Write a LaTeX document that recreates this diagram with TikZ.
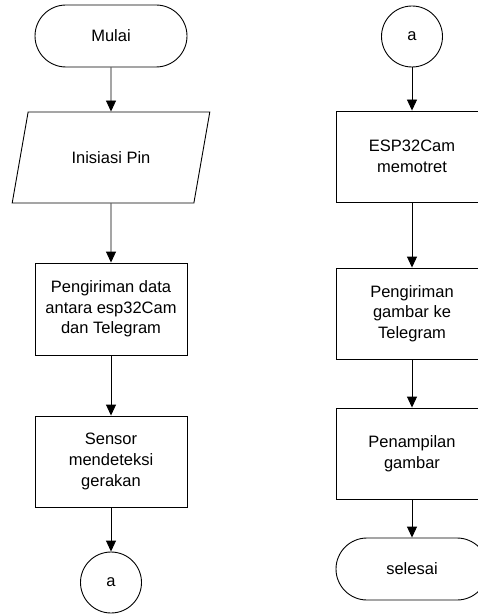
\documentclass[tikz,border=0pt]{standalone}
\usepackage{fontspec}
\setmainfont{Liberation Sans}
\usetikzlibrary{shapes.geometric,arrows.meta}
\begin{document}
\begin{tikzpicture}[x=1pt,y=-1pt,
  every node/.style={font=\fontsize{16.5}{20.7}\selectfont, align=center, draw=black, line width=0.9pt, inner sep=2pt},
  procbox/.style={rectangle, minimum width=152pt, minimum height=91pt},
  termbox/.style={rectangle, rounded corners=31pt, minimum width=152pt, minimum height=62pt},
  conn/.style={circle, minimum size=61pt},
  iobox/.style={trapezium, trapezium left angle=63.7, trapezium right angle=116.3, trapezium stretches=true, minimum width=198pt, minimum height=91pt},
  flow/.style={draw=black, line width=0.9pt, -{Triangle[width=10pt,length=11pt]}}
]
\useasboundingbox (0,0) rectangle (478,615);
\clip (0,0) rectangle (478,615);
\node[termbox] (mulai) at (111,36) {Mulai};
\node[iobox] (pin) at (111,157.5) {Inisiasi Pin};
\node[procbox, minimum height=92pt] (kirimdata) at (111,309) {Pengiriman data\\antara esp32Cam\\dan Telegram};
\node[procbox] (sensor) at (111,461.5) {Sensor\\mendeteksi\\gerakan};
\node[conn] (aL) at (111,582.5) {a};
\node[conn] (aR) at (412,36.5) {a};
\node[procbox] (esp) at (412,156.5) {ESP32Cam\\memotret};
\node[procbox] (kirimgambar) at (412,313.5) {Pengiriman\\gambar ke\\Telegram};
\node[procbox] (tampil) at (412,453.5) {Penampilan\\gambar};
\node[termbox] (selesai) at (412,569) {selesai};
\draw[flow] (mulai) -- (pin);
\draw[flow] (pin) -- (kirimdata);
\draw[flow] (kirimdata) -- (sensor);
\draw[flow] (sensor) -- (aL);
\draw[flow] (aR) -- (esp);
\draw[flow] (esp) -- (kirimgambar);
\draw[flow] (kirimgambar) -- (tampil);
\draw[flow] (tampil) -- (selesai);
\end{tikzpicture}
\end{document}
